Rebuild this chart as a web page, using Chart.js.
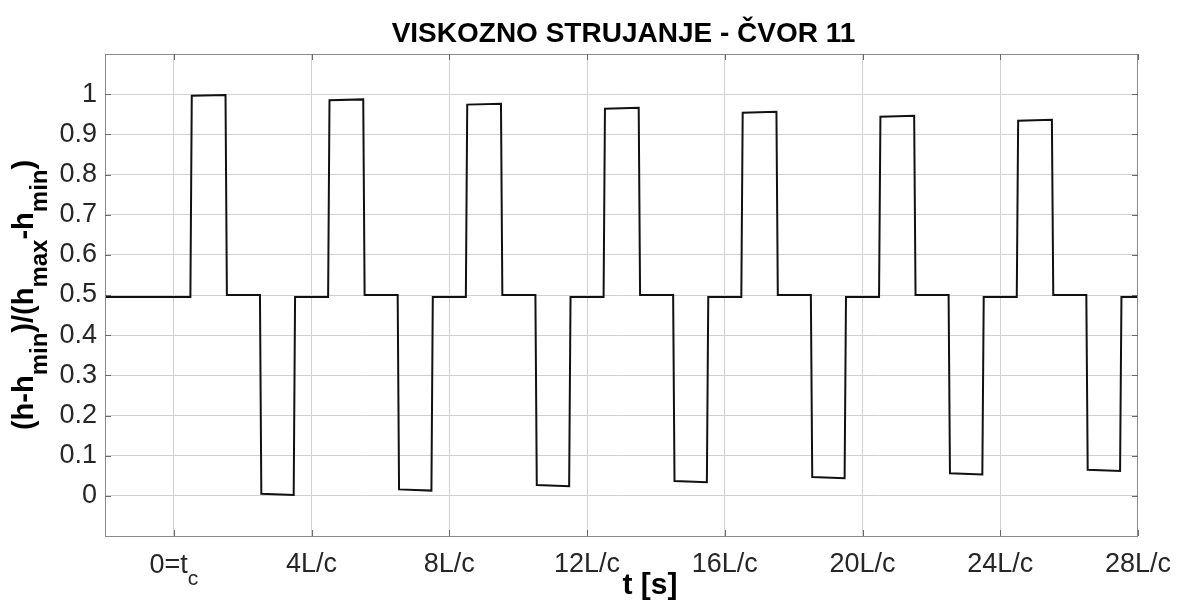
<!DOCTYPE html>
<html>
<head>
<meta charset="utf-8">
<title>Viskozno strujanje - čvor 11</title>
<script src="https://cdn.jsdelivr.net/npm/chart.js@4.4.1/dist/chart.umd.min.js"></script>
<style>
    html, body { margin: 0; padding: 0; background: #fff; }
    #wrap { width: 1183px; height: 601px; }
</style>
</head>
<body>
<div id="wrap"><canvas id="chart" width="1183" height="601"></canvas></div>
<script>
// time in units of L/c, head normalised (h-hmin)/(hmax-hmin)
const timeLc = [
    -2.00,
    0.48, 0.52, 1.50, 1.54, 2.50, 2.54, 3.48, 3.52,
    4.48, 4.52, 5.50, 5.54, 6.50, 6.54, 7.48, 7.52,
    8.48, 8.52, 9.50, 9.54, 10.50, 10.54, 11.48, 11.52,
    12.48, 12.52, 13.50, 13.54, 14.50, 14.54, 15.48, 15.52,
    16.48, 16.52, 17.50, 17.54, 18.50, 18.54, 19.48, 19.52,
    20.48, 20.52, 21.50, 21.54, 22.50, 22.54, 23.48, 23.52,
    24.48, 24.52, 25.50, 25.54, 26.50, 26.54, 27.48, 27.52,
    28.00
];
const headNorm = [
    0.495,
    0.495, 0.996, 0.998, 0.500, 0.500, 0.005, 0.002, 0.495,
    0.495, 0.985, 0.987, 0.500, 0.500, 0.016, 0.013, 0.495,
    0.495, 0.974, 0.976, 0.500, 0.500, 0.027, 0.024, 0.495,
    0.495, 0.964, 0.966, 0.500, 0.500, 0.037, 0.034, 0.495,
    0.495, 0.954, 0.956, 0.500, 0.500, 0.047, 0.044, 0.495,
    0.495, 0.944, 0.946, 0.500, 0.500, 0.056, 0.053, 0.495,
    0.495, 0.934, 0.936, 0.500, 0.500, 0.065, 0.062, 0.495,
    0.495
];
const xTickValues = [0, 4, 8, 12, 16, 20, 24, 28];
const xTickLabels = ['0=t', '4L/c', '8L/c', '12L/c', '16L/c', '20L/c', '24L/c', '28L/c'];
const yTickValues = [0, 0.1, 0.2, 0.3, 0.4, 0.5, 0.6, 0.7, 0.8, 0.9, 1];
const yTickLabels = ['0', '0.1', '0.2', '0.3', '0.4', '0.5', '0.6', '0.7', '0.8', '0.9', '1'];

const chartTitle = 'VISKOZNO STRUJANJE - ČVOR 11';
const FONT = '"Liberation Sans", Arial, Helvetica, sans-serif';
const TICK_COLOR = '#262626';

// draws a run of text pieces, some of them as subscripts
function drawRich(ctx, parts, x, y, mainSize, subSize, subDrop, bold) {
    const weight = bold ? 'bold ' : '';
    let total = 0;
    parts.forEach(p => {
        ctx.font = weight + (p.sub ? subSize : mainSize) + 'px ' + FONT;
        total += ctx.measureText(p.t).width;
    });
    let cx = x - total / 2;
    ctx.textAlign = 'left';
    ctx.textBaseline = 'alphabetic';
    parts.forEach(p => {
        ctx.font = weight + (p.sub ? subSize : mainSize) + 'px ' + FONT;
        ctx.fillText(p.t, cx, p.sub ? y + subDrop : y);
        cx += ctx.measureText(p.t).width;
    });
}

const decorations = {
    id: 'decorations',
    beforeDraw(chart) {
        const ctx = chart.ctx;
        ctx.save();
        ctx.fillStyle = '#fff';
        ctx.fillRect(0, 0, chart.width, chart.height);
        ctx.restore();
    },
    afterDraw(chart) {
        const ctx = chart.ctx;
        const a = chart.chartArea;
        const xs = chart.scales.x;
        const ys = chart.scales.y;
        ctx.save();

        // axes box
        ctx.strokeStyle = '#8a8a8a';
        ctx.lineWidth = 1;
        ctx.strokeRect(a.left + 0.5, a.top + 0.5, a.right - a.left - 1, a.bottom - a.top);

        // inward tick marks like matlab
        ctx.strokeStyle = '#6a6a6a';
        ctx.beginPath();
        xTickValues.forEach(v => {
            const px = Math.round(xs.getPixelForValue(v)) + 0.5;
            ctx.moveTo(px, a.bottom); ctx.lineTo(px, a.bottom - 6);
            ctx.moveTo(px, a.top); ctx.lineTo(px, a.top + 6);
        });
        yTickValues.forEach(v => {
            const py = Math.round(ys.getPixelForValue(v)) + 0.5;
            ctx.moveTo(a.left, py); ctx.lineTo(a.left + 6, py);
            ctx.moveTo(a.right, py); ctx.lineTo(a.right - 6, py);
        });
        ctx.stroke();

        // title
        ctx.fillStyle = '#000';
        ctx.font = 'bold 28px ' + FONT;
        ctx.textAlign = 'center';
        ctx.textBaseline = 'alphabetic';
        ctx.fillText(chartTitle, (a.left + a.right) / 2 + 2, 42);

        // first x tick label with subscript
        ctx.fillStyle = TICK_COLOR;
        drawRich(ctx, [{ t: xTickLabels[0] }, { t: 'c', sub: true }],
            xs.getPixelForValue(xTickValues[0]), 573, 27, 21, 12, false);

        // x axis title
        ctx.fillStyle = '#000';
        ctx.font = 'bold 30px ' + FONT;
        ctx.textAlign = 'center';
        ctx.fillText('t [s]', 650, 594);

        // y axis title
        ctx.translate(33, (a.top + a.bottom) / 2);
        ctx.rotate(-Math.PI / 2);
        drawRich(ctx, [
            { t: '(h-h' }, { t: 'min', sub: true },
            { t: ')/(h' }, { t: 'max', sub: true },
            { t: '-h' }, { t: 'min', sub: true },
            { t: ')' }
        ], 0, 0, 29, 24, 14, true);
        ctx.restore();
    }
};

new Chart(document.getElementById('chart'), {
    type: 'line',
    data: {
        datasets: [{
            data: timeLc.map((t, i) => ({ x: t, y: headNorm[i] })),
            borderColor: '#111',
            borderWidth: 2,
            pointRadius: 0,
            tension: 0,
            fill: false,
            borderJoinStyle: 'miter'
        }]
    },
    options: {
        responsive: false,
        animation: false,
        events: [],
        layout: { padding: { top: 54, right: 43, left: 0, bottom: 0 } },
        plugins: {
            legend: { display: false },
            title: { display: false },
            tooltip: { enabled: false }
        },
        scales: {
            x: {
                type: 'linear',
                min: -2,
                max: 28,
                afterBuildTicks: axis => { axis.ticks = xTickValues.map(v => ({ value: v })); },
                afterFit: axis => { axis.height = 65; },
                grid: { color: '#d0d0d0', lineWidth: 1, drawTicks: false },
                border: { display: false },
                ticks: {
                    autoSkip: false,
                    maxRotation: 0,
                    padding: 12,
                    color: TICK_COLOR,
                    font: { family: FONT, size: 27 },
                    callback: (value, index) => index === 0 ? '' : xTickLabels[index]
                }
            },
            y: {
                type: 'linear',
                min: -0.1,
                max: 1.1,
                afterBuildTicks: axis => { axis.ticks = yTickValues.map(v => ({ value: v })); },
                afterFit: axis => { axis.width = 105; },
                grid: { color: '#d0d0d0', lineWidth: 1, drawTicks: false },
                border: { display: false },
                ticks: {
                    autoSkip: false,
                    padding: 8,
                    color: TICK_COLOR,
                    font: { family: FONT, size: 27 },
                    callback: (value, index) => yTickLabels[index]
                }
            }
        }
    },
    plugins: [decorations]
});
</script>
</body>
</html>
